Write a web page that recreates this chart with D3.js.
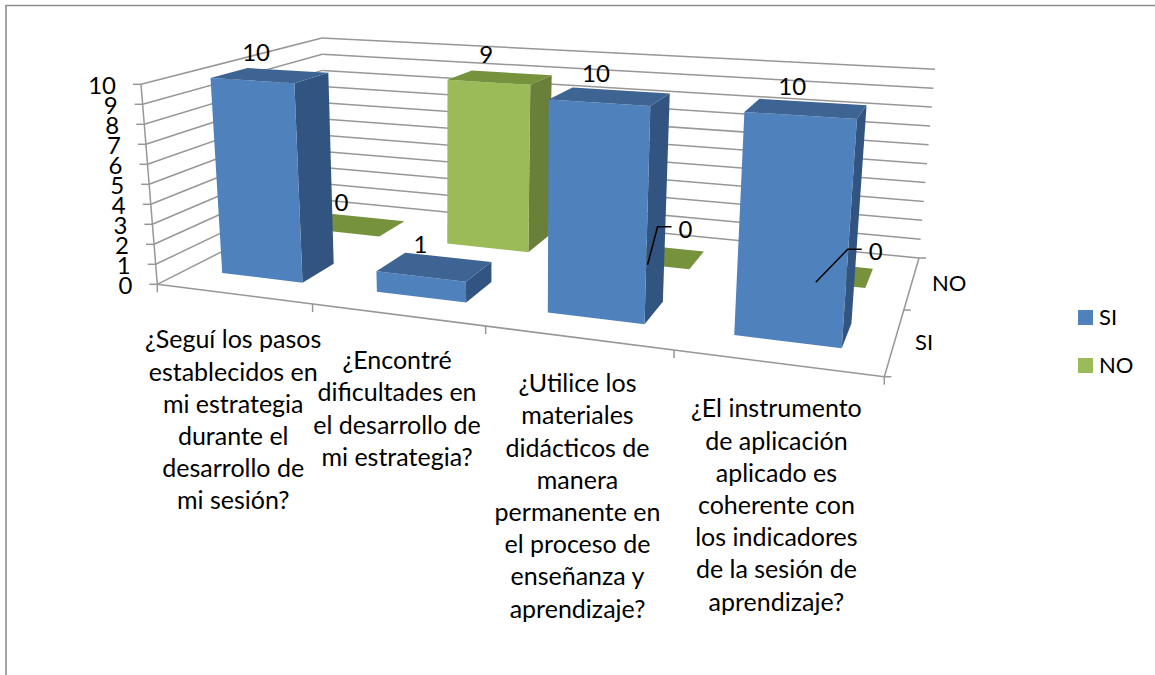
<!DOCTYPE html>
<html>
<head>
<meta charset="utf-8">
<script src="https://cdn.jsdelivr.net/npm/d3@7"></script>
<style>
  html, body { margin: 0; background: #fff; }
  svg { display: block; }
  text { font-family: Lato, "Open Sans", sans-serif; fill: #000; }
</style>
</head>
<body>
<script>
// data
var categories = [
  "¿Seguí los pasos establecidos en mi estrategia durante el desarrollo de mi sesión?",
  "¿Encontré dificultades en el desarrollo de mi estrategia?",
  "¿Utilice los materiales didácticos de manera permanente en el proceso de enseñanza y aprendizaje?",
  "¿El instrumento de aplicación aplicado es coherente con los indicadores de la sesión de aprendizaje?"
];
var categoryLines = [
  ["¿Seguí los pasos", "establecidos en", "mi estrategia", "durante el", "desarrollo de", "mi sesión?"],
  ["¿Encontré", "dificultades en", "el desarrollo de", "mi estrategia?"],
  ["¿Utilice los", "materiales", "didácticos de", "manera", "permanente en", "el proceso de", "enseñanza y", "aprendizaje?"],
  ["¿El instrumento", "de aplicación", "aplicado es", "coherente con", "los indicadores", "de la sesión de", "aprendizaje?"]
];
var series = ["SI", "NO"];
var siValues = [10, 1, 10, 10];
var noValues = [0, 9, 0, 0];
var yTicks = [0, 1, 2, 3, 4, 5, 6, 7, 8, 9, 10];

var colors = {
  SI: {front: "#4f81bd", top: "#3e6493", side: "#325480"},
  NO: {front: "#9bbb59", top: "#76923c", side: "#6a7f38"}
};

var width = 1155, height = 675;

// scales work in unit space, project() turns that into the picture
var x = d3.scaleBand().domain(categories).range([0, 1]).paddingInner(0.468).paddingOuter(0.234);
var z = d3.scaleBand().domain(series).range([0, 1]).paddingInner(0.62).paddingOuter(0.31);
var y = d3.scaleLinear().domain([0, 10]).range([0, 1]);

// unit square -> quad
function homography(q) {
  var dx1 = q[1][0] - q[2][0], dx2 = q[3][0] - q[2][0], sx = q[0][0] - q[1][0] + q[2][0] - q[3][0];
  var dy1 = q[1][1] - q[2][1], dy2 = q[3][1] - q[2][1], sy = q[0][1] - q[1][1] + q[2][1] - q[3][1];
  var det = dx1 * dy2 - dx2 * dy1;
  var g = (sx * dy2 - dx2 * sy) / det, h = (dx1 * sy - sx * dy1) / det;
  var a = q[1][0] - q[0][0] + g * q[1][0], b = q[3][0] - q[0][0] + h * q[3][0], c = q[0][0];
  var d = q[1][1] - q[0][1] + g * q[1][1], e = q[3][1] - q[0][1] + h * q[3][1], f = q[0][1];
  return function (u, v) {
    var w = g * u + h * v + 1;
    return [(a * u + b * v + c) / w, (d * u + e * v + f) / w];
  };
}

// corners: front left, front right, back right, back left
var floorH = homography([[157.3, 284.3], [884.3, 376.7], [919, 258], [324, 200]]);
var topH = homography([[141, 84.3], [902, 135], [935, 69.3], [322, 38]]);

// small correction, the tick spacing in the picture is not quite a plain perspective
var floorU = d3.scaleLinear().domain([0, 0.25, 0.5, 0.75, 1]).range([0, 0.248, 0.5, 0.749, 1]);
var topU = d3.scaleLinear().domain([0, 0.25, 0.5, 0.75, 1]).range([0, 0.248, 0.497, 0.748, 1]);

function project(u, v, t) {
  var a = floorH(floorU(u), v), b = topH(topU(u), v);
  return [a[0] + (b[0] - a[0]) * t, a[1] + (b[1] - a[1]) * t];
}

var poly = function (pts) { return d3.line()(pts) + "Z"; };

var svg = d3.select("body").append("svg")
    .attr("width", width)
    .attr("height", height);

// frame of the chart, only top and left show
svg.append("path")
    .attr("d", "M6,675V5.5H1155")
    .attr("fill", "none")
    .attr("stroke", "#8e8e8e")
    .attr("stroke-width", 1.6);

var axisColor = "#979797";
var grid = svg.append("g").attr("stroke", axisColor).attr("stroke-width", 1.5).attr("fill", "none");

function seg(a, b) {
  grid.append("path").attr("d", d3.line()([a, b]));
}

// walls
yTicks.forEach(function (t) {
  var p0 = project(0, 0, y(t)), p1 = project(0, 1, y(t)), p2 = project(1, 1, y(t));
  seg(p0, p1);
  seg(p1, p2);
  seg([p0[0] - 8, p0[1]], p0);
  svg.append("text")
      .attr("x", p0[0] - 25)
      .attr("y", p0[1] + 10)
      .attr("text-anchor", "end")
      .style("font-size", "24px")
      .text(t);
});

// value axis and floor edges
seg(project(0, 0, 0), project(0, 0, 1));
seg(project(0, 0, 0), project(1, 0, 0));
seg(project(1, 0, 0), project(1, 1, 0));

// category ticks
d3.range(0, categories.length + 1).forEach(function (i) {
  var p = project(i / categories.length, 0, 0);
  seg(p, [p[0], p[1] + 8]);
});

// depth ticks and names
d3.range(0, series.length + 1).forEach(function (i) {
  var p = project(1, i / series.length, 0);
  seg(p, [p[0] + 7, p[1]]);
});
var depthLabelPos = {SI: [915, 350], NO: [932, 291]};
series.forEach(function (s) {
  svg.append("text")
      .attr("x", depthLabelPos[s][0])
      .attr("y", depthLabelPos[s][1])
      .style("font-size", "22px")
      .text(s);
});

// one row of bars, back row goes first so the front row covers it
function drawBars(name, values) {
  var g = svg.append("g");
  values.forEach(function (d, i) {
    var x0 = x(categories[i]), x1 = x0 + x.bandwidth();
    var z0 = z(name), z1 = z0 + z.bandwidth();
    var t = y(d);
    if (d > 0) {
      g.append("path").attr("fill", colors[name].side)
          .attr("d", poly([project(x1, z0, 0), project(x1, z1, 0), project(x1, z1, t), project(x1, z0, t)]));
      g.append("path").attr("fill", colors[name].front)
          .attr("d", poly([project(x0, z0, 0), project(x1, z0, 0), project(x1, z0, t), project(x0, z0, t)]));
    }
    g.append("path").attr("fill", colors[name].top)
        .attr("d", poly([project(x0, z0, t), project(x1, z0, t), project(x1, z1, t), project(x0, z1, t)]));
  });
}
drawBars("NO", noValues);
drawBars("SI", siValues);

// value labels sit above the middle of the bar top
// the two zero labels in the last categories were dragged aside and have leader lines
var movedLabels = {
  "NO2": [32, -27],
  "NO3": [54, -22]
};
function drawLabels(name, values) {
  values.forEach(function (d, i) {
    var xm = x(categories[i]) + x.bandwidth() / 2;
    var zm = z(name) + z.bandwidth() / 2;
    var c = project(xm, zm, y(d));
    var moved = movedLabels[name + i];
    var lx = moved ? c[0] + moved[0] : c[0] - 14;
    var ly = moved ? c[1] + moved[1] : c[1] - 23;
    svg.append("text")
        .attr("x", lx)
        .attr("y", ly + 9)
        .attr("text-anchor", "middle")
        .style("font-size", "24px")
        .text(d);
    if (moved) {
      svg.append("path")
          .attr("fill", "none")
          .attr("stroke", "#000")
          .attr("stroke-width", 1.5)
          .attr("d", d3.line()([[c[0] - 6, c[1] + 9], [lx - 28, ly - 2], [lx - 14, ly - 2]]));
    }
  });
}
drawLabels("NO", noValues);
drawLabels("SI", siValues);

// category names, broken by hand like the original
categoryLines.forEach(function (lines, i) {
  var u = x(categories[i]) + x.bandwidth() / 2;
  var p = project(u, 0, 0);
  var t = svg.append("text")
      .attr("text-anchor", "middle")
      .style("font-size", "25px");
  lines.forEach(function (line, k) {
    t.append("tspan")
        .attr("x", p[0])
        .attr("y", p[1] + 54.5 + k * 32.2)
        .text(line);
  });
});

// legend
var legend = svg.append("g")
    .selectAll("g")
    .data(series)
    .enter().append("g")
    .attr("transform", function (d, i) { return "translate(1078," + (310 + i * 48) + ")"; });
legend.append("rect")
    .attr("width", 15)
    .attr("height", 15)
    .attr("fill", function (d) { return colors[d].front; });
legend.append("text")
    .attr("x", 21)
    .attr("y", 15)
    .style("font-size", "22px")
    .text(function (d) { return d; });
</script>
</body>
</html>
